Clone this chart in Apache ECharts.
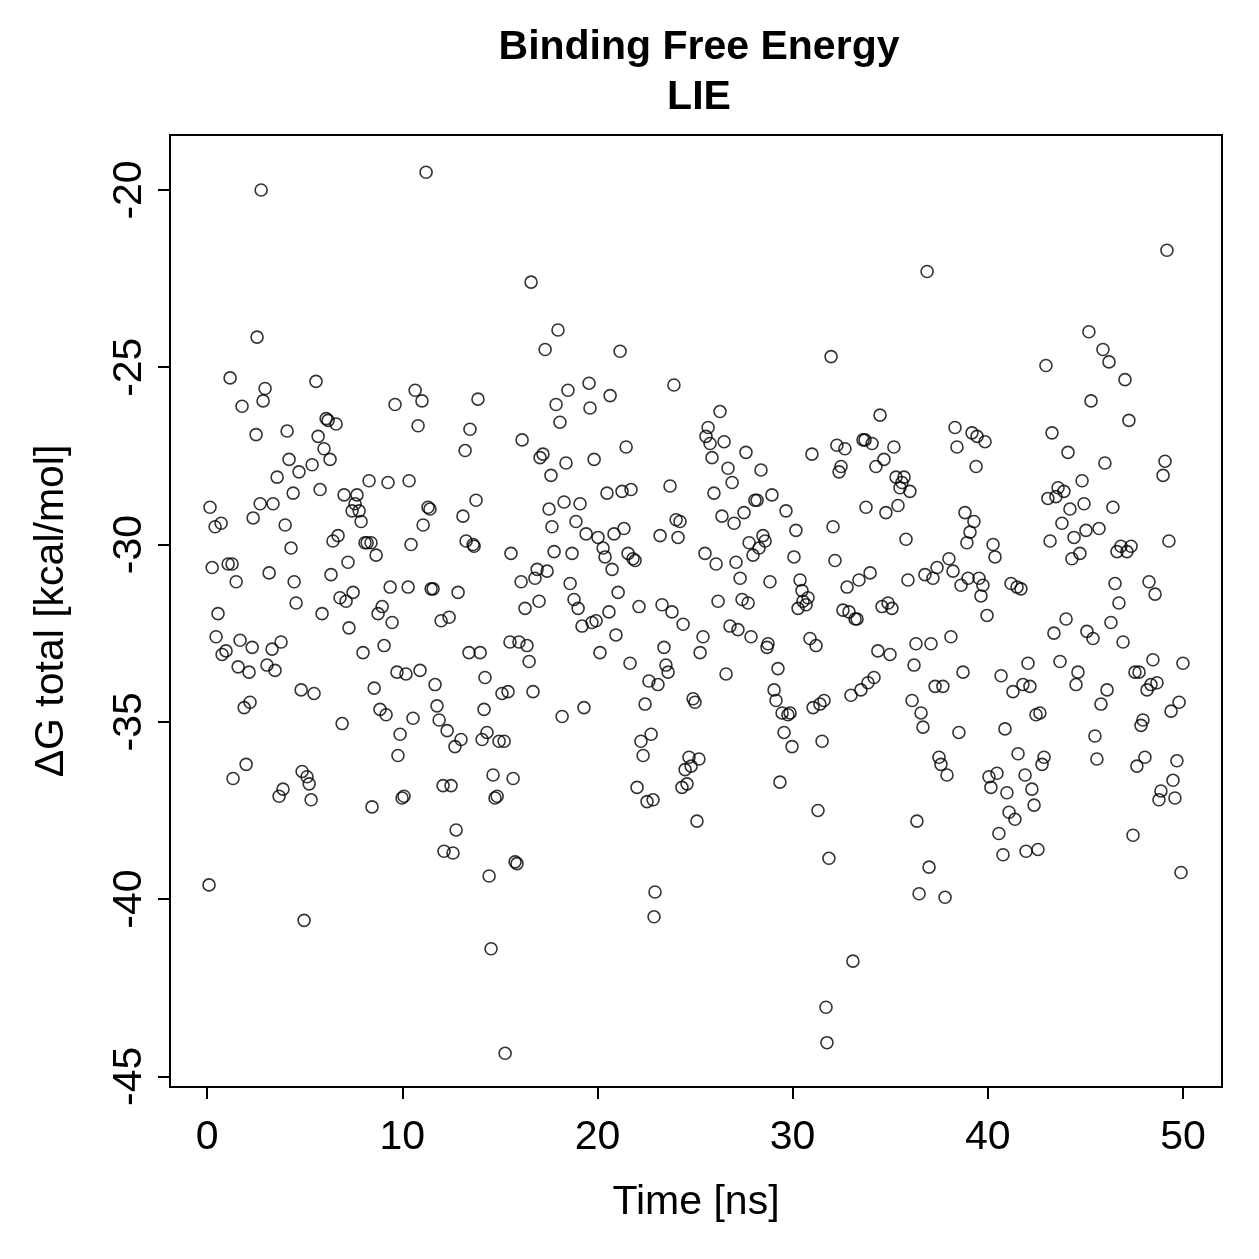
<!DOCTYPE html>
<html>
<head>
<meta charset="utf-8">
<script src="https://cdn.jsdelivr.net/npm/echarts@6/dist/echarts.min.js"></script>
<style>html,body{margin:0;padding:0;background:#fff;}#c{width:1259px;height:1259px;}</style>
</head>
<body>
<div id="c"></div>
<script>
const titleLines = ['Binding Free Energy', 'LIE'];
const xName = 'Time [ns]';
const yName = 'ΔG total [kcal/mol]';
const xTicks = [0, 10, 20, 30, 40, 50];
const yTicks = [-45, -40, -35, -30, -25, -20];

const times = [0.10,0.15,0.26,0.41,0.46,0.56,0.72,0.77,0.97,1.08,1.18,1.28,1.33,1.49,1.59,1.69,1.79,1.90,2.00,2.15,2.20,2.31,2.36,2.51,2.56,2.72,2.77,2.87,2.97,3.07,3.18,3.33,3.38,3.48,3.59,3.69,3.79,3.89,4.00,4.10,4.20,4.30,4.41,4.46,4.56,4.71,4.82,4.87,4.97,5.12,5.23,5.33,5.38,5.48,5.58,5.69,5.79,5.89,5.99,6.10,6.20,6.30,6.35,6.45,6.61,6.71,6.81,6.92,7.02,7.12,7.22,7.27,7.43,7.48,7.58,7.68,7.79,7.89,7.99,8.09,8.20,8.30,8.40,8.45,8.56,8.66,8.76,8.86,8.97,9.07,9.17,9.27,9.38,9.48,9.63,9.73,9.78,9.89,9.99,10.09,10.19,10.30,10.35,10.45,10.55,10.66,10.81,10.91,11.01,11.07,11.22,11.32,11.42,11.48,11.58,11.68,11.78,11.89,11.99,12.09,12.14,12.30,12.40,12.50,12.60,12.70,12.76,12.86,13.01,13.11,13.22,13.27,13.42,13.47,13.63,13.68,13.78,13.88,13.99,14.09,14.19,14.24,14.34,14.45,14.55,14.65,14.75,14.86,14.96,15.11,15.22,15.27,15.42,15.52,15.57,15.68,15.78,15.88,15.98,16.09,16.14,16.29,16.39,16.50,16.60,16.70,16.80,16.91,17.01,17.06,17.21,17.32,17.42,17.52,17.62,17.67,17.78,17.88,17.98,18.08,18.19,18.29,18.39,18.49,18.60,18.70,18.80,18.90,19.01,19.11,19.21,19.31,19.42,19.57,19.62,19.72,19.83,19.93,20.03,20.13,20.29,20.39,20.49,20.59,20.65,20.75,20.85,20.95,21.06,21.16,21.26,21.36,21.47,21.57,21.67,21.72,21.82,21.93,22.03,22.13,22.23,22.34,22.44,22.54,22.64,22.75,22.85,22.90,22.95,23.10,23.21,23.31,23.41,23.51,23.62,23.72,23.82,23.92,24.03,24.13,24.23,24.33,24.39,24.49,24.59,24.69,24.80,24.90,25.00,25.10,25.20,25.26,25.41,25.51,25.56,25.67,25.77,25.87,25.97,26.08,26.18,26.28,26.38,26.49,26.59,26.69,26.79,26.90,27.00,27.10,27.20,27.31,27.41,27.51,27.61,27.72,27.77,27.87,27.97,28.07,28.18,28.28,28.38,28.48,28.59,28.69,28.74,28.84,28.94,29.05,29.15,29.25,29.35,29.46,29.56,29.66,29.76,29.87,29.97,30.07,30.17,30.28,30.38,30.48,30.53,30.69,30.79,30.89,30.99,31.05,31.20,31.30,31.40,31.51,31.61,31.71,31.76,31.86,31.97,32.07,32.17,32.27,32.38,32.48,32.58,32.68,32.79,32.89,32.99,33.09,33.20,33.30,33.40,33.50,33.61,33.71,33.76,33.86,33.97,34.07,34.17,34.27,34.37,34.48,34.58,34.68,34.78,34.89,34.99,35.09,35.19,35.30,35.40,35.50,35.60,35.71,35.81,35.91,36.01,36.12,36.22,36.32,36.37,36.48,36.58,36.68,36.78,36.89,36.99,37.09,37.19,37.30,37.40,37.50,37.60,37.70,37.81,37.91,38.01,38.11,38.22,38.32,38.42,38.52,38.63,38.73,38.83,38.93,38.99,39.09,39.19,39.29,39.40,39.45,39.55,39.65,39.75,39.86,39.96,40.06,40.16,40.27,40.37,40.47,40.57,40.68,40.78,40.88,40.98,41.09,41.19,41.29,41.39,41.50,41.55,41.70,41.80,41.91,41.96,42.06,42.16,42.26,42.37,42.47,42.57,42.67,42.78,42.88,42.98,43.08,43.19,43.29,43.39,43.49,43.60,43.70,43.80,43.90,44.01,44.11,44.21,44.31,44.42,44.52,44.62,44.72,44.83,44.93,45.03,45.08,45.18,45.29,45.39,45.49,45.59,45.70,45.80,45.90,46.00,46.11,46.21,46.31,46.41,46.52,46.62,46.72,46.82,46.93,47.03,47.13,47.23,47.34,47.44,47.54,47.64,47.75,47.85,47.95,48.05,48.16,48.26,48.36,48.46,48.57,48.67,48.77,48.87,48.98,49.08,49.18,49.28,49.39,49.49,49.59,49.69,49.80,49.90,50.00];

const dG = [-39.6,-28.95,-30.65,-29.5,-32.6,-31.95,-29.4,-33.1,-33.0,-30.55,-25.3,-30.55,-36.6,-31.05,-33.45,-32.7,-26.1,-34.6,-36.2,-33.6,-34.45,-32.9,-29.25,-26.9,-24.15,-28.85,-20.0,-25.95,-25.6,-33.4,-30.8,-32.95,-28.85,-33.55,-28.1,-37.1,-32.75,-36.9,-29.45,-26.8,-27.6,-30.1,-28.55,-31.05,-31.65,-27.95,-34.1,-36.4,-40.6,-36.55,-36.75,-37.2,-27.75,-34.2,-25.4,-26.95,-28.45,-31.95,-27.3,-26.45,-26.5,-27.6,-30.85,-29.9,-26.6,-29.75,-31.5,-35.05,-28.6,-31.6,-30.5,-32.35,-29.05,-31.35,-28.85,-28.6,-29.05,-29.35,-33.05,-29.95,-29.95,-28.2,-29.95,-37.4,-34.05,-30.3,-31.95,-34.65,-31.75,-32.85,-34.8,-28.25,-31.2,-32.2,-26.05,-33.6,-35.95,-35.35,-37.15,-37.1,-33.65,-31.2,-28.2,-30.0,-34.9,-25.65,-26.65,-33.55,-25.95,-29.45,-19.5,-28.95,-29.0,-31.25,-31.25,-33.95,-34.55,-34.95,-32.15,-36.8,-38.65,-35.25,-32.05,-36.8,-38.7,-35.7,-38.05,-31.35,-35.5,-29.2,-27.35,-29.9,-33.05,-26.75,-30.0,-30.05,-28.75,-25.9,-33.05,-35.5,-34.65,-33.75,-35.3,-39.35,-41.4,-36.5,-37.15,-37.1,-35.55,-34.2,-35.55,-44.35,-34.15,-32.75,-30.25,-36.6,-38.95,-39.0,-32.75,-31.05,-27.05,-31.8,-32.85,-33.3,-22.6,-34.15,-30.95,-30.7,-31.6,-27.55,-27.45,-24.5,-30.75,-29.0,-28.05,-29.5,-30.2,-26.05,-23.95,-26.55,-34.85,-28.8,-27.7,-25.65,-31.1,-30.25,-31.55,-29.35,-31.8,-28.85,-32.3,-34.6,-29.7,-25.45,-26.15,-32.2,-27.6,-32.15,-29.8,-33.05,-30.1,-30.35,-28.55,-31.9,-25.8,-30.7,-29.7,-32.55,-31.35,-24.55,-28.5,-29.55,-27.25,-30.25,-33.35,-28.45,-30.4,-30.45,-36.85,-31.75,-35.55,-35.95,-34.5,-37.25,-33.85,-35.35,-37.2,-40.5,-39.8,-33.95,-29.75,-31.7,-32.9,-33.4,-33.6,-28.35,-31.9,-25.5,-29.3,-29.8,-29.35,-36.85,-32.25,-36.35,-36.75,-36.0,-36.25,-34.35,-34.45,-37.8,-36.05,-33.05,-32.6,-30.25,-26.95,-26.7,-27.15,-27.55,-28.55,-30.55,-31.6,-26.25,-29.2,-27.1,-33.65,-27.85,-32.3,-28.25,-29.4,-30.5,-32.4,-30.95,-31.55,-29.1,-27.4,-31.65,-29.95,-32.6,-30.3,-28.75,-28.75,-30.1,-27.9,-29.75,-29.9,-32.9,-32.8,-31.05,-28.6,-34.1,-34.4,-33.5,-36.7,-34.75,-35.3,-29.05,-34.8,-34.75,-35.7,-30.35,-29.6,-31.8,-31.0,-31.3,-31.6,-31.7,-31.5,-32.65,-27.45,-34.6,-32.85,-37.5,-34.5,-35.55,-34.4,-43.05,-44.05,-38.85,-24.7,-29.5,-30.45,-27.2,-27.95,-27.8,-31.85,-27.3,-31.2,-31.9,-34.25,-41.75,-32.1,-32.1,-31.0,-34.1,-27.05,-27.05,-28.95,-33.9,-30.8,-27.15,-33.75,-27.8,-33.0,-26.35,-31.75,-27.6,-29.1,-31.65,-33.1,-31.8,-27.25,-28.1,-28.9,-28.4,-28.25,-28.1,-29.85,-31.0,-28.5,-34.4,-33.4,-32.8,-37.8,-39.85,-34.75,-35.15,-30.85,-22.3,-39.1,-32.8,-30.95,-34.0,-30.65,-36.0,-36.2,-34.0,-39.95,-36.5,-30.4,-32.6,-30.75,-26.7,-27.25,-35.3,-31.15,-33.6,-29.1,-29.95,-30.95,-29.65,-26.85,-29.35,-27.8,-26.95,-30.95,-31.45,-31.15,-27.1,-32.0,-36.55,-36.85,-30.0,-30.35,-36.45,-38.15,-33.7,-38.75,-35.2,-37.0,-37.55,-31.1,-34.15,-37.75,-31.2,-35.9,-31.25,-33.95,-36.5,-38.65,-33.35,-34.0,-36.9,-37.35,-34.8,-38.6,-34.75,-36.2,-36.0,-24.95,-28.7,-29.9,-26.85,-32.5,-28.65,-28.4,-33.3,-29.4,-28.5,-32.1,-27.4,-29.0,-30.4,-29.8,-33.95,-33.6,-30.25,-28.2,-28.85,-29.6,-32.45,-24.0,-25.95,-32.65,-35.4,-36.05,-29.55,-34.5,-24.5,-27.7,-34.1,-24.85,-32.2,-28.95,-31.1,-30.2,-31.65,-30.05,-32.75,-25.35,-30.2,-26.5,-30.05,-38.2,-33.6,-36.25,-33.6,-35.1,-34.95,-36.0,-34.1,-31.05,-33.95,-33.25,-31.4,-33.9,-37.2,-36.95,-28.05,-27.65,-21.7,-29.9,-34.7,-36.65,-37.15,-36.1,-34.45,-39.25,-33.35];

const n = Math.min(times.length, dG.length);
const points = [];
for (let i = 0; i < n; i++) points.push([times[i], dG[i]]);

const FONT = '"Liberation Sans", Arial, Helvetica, sans-serif';
const chart = echarts.init(document.getElementById('c'), null, {renderer: 'canvas'});
chart.setOption({
  animation: false,
  backgroundColor: '#ffffff',
  title: {
    text: titleLines.join('\n'),
    left: 694,
    textAlign: 'center',
    top: 18,
    textStyle: {fontFamily: FONT, fontSize: 41, fontWeight: 'bold', color: '#000', lineHeight: 50}
  },
  grid: {left: 170, top: 135, width: 1052, height: 952, show: true, borderColor: '#000', borderWidth: 2, backgroundColor: 'transparent', containLabel: false},
  xAxis: {
    type: 'value', min: -1.9, max: 52.0,
    splitLine: {show: false},
    axisLine: {show: false, onZero: false},
    axisTick: {show: true, customValues: xTicks, length: 12, lineStyle: {color: '#000', width: 2}},
    axisLabel: {customValues: xTicks, fontFamily: FONT, fontSize: 41, color: '#000', margin: 30},
    name: xName, nameLocation: 'middle', nameGap: 95,
    nameTextStyle: {fontFamily: FONT, fontSize: 41, color: '#000'}
  },
  yAxis: {
    type: 'value', min: -45.3, max: -18.45,
    splitLine: {show: false},
    axisLine: {show: false, onZero: false},
    axisTick: {show: true, customValues: yTicks, length: 12, lineStyle: {color: '#000', width: 2}},
    axisLabel: {customValues: yTicks, rotate: 90, fontFamily: FONT, fontSize: 41, color: '#000', margin: 20},
    name: yName, nameLocation: 'middle', nameGap: 98, nameRotate: 90,
    nameTextStyle: {fontFamily: FONT, fontSize: 41, color: '#000'}
  },
  series: [{
    type: 'scatter',
    data: points,
    symbol: 'circle',
    symbolSize: 12,
    itemStyle: {color: 'rgba(0,0,0,0)', borderColor: '#000', borderWidth: 1.6},
    emphasis: {disabled: true}
  }]
});
</script>
</body>
</html>
